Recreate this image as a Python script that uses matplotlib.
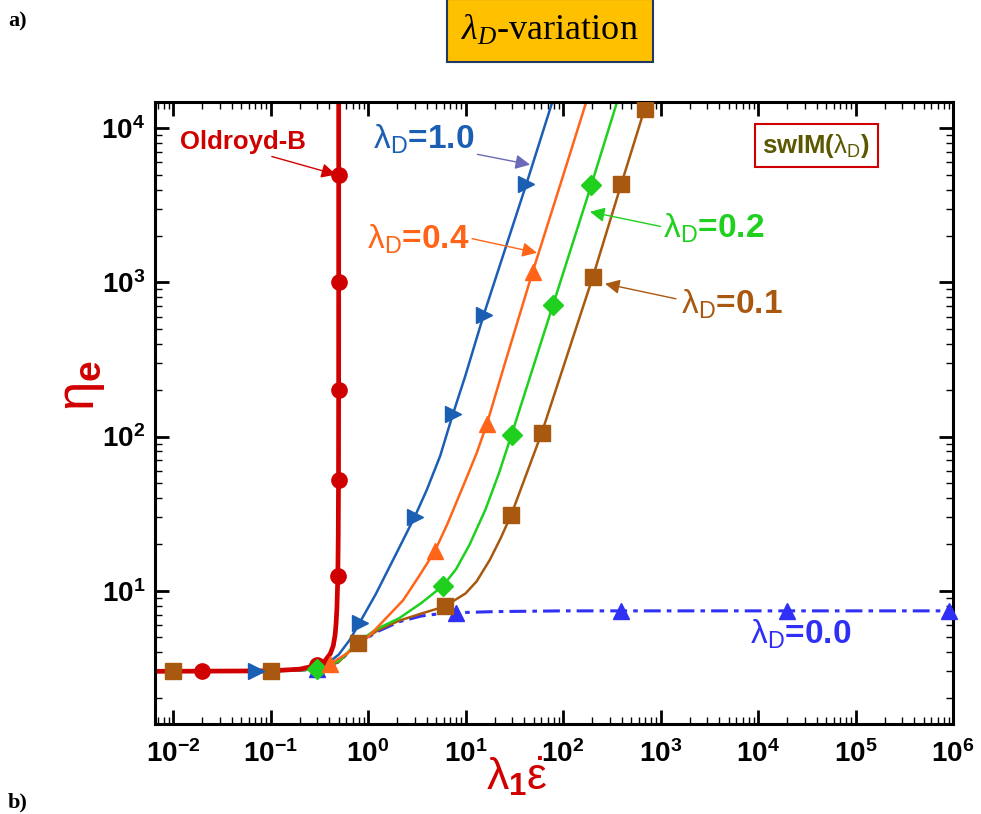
import numpy as np
import matplotlib
matplotlib.use("Agg")
from matplotlib import pyplot as plt
from matplotlib.ticker import LogLocator, FuncFormatter, NullFormatter

# Oldroyd-B
ob_x = [0.0065, 0.1, 0.2, 0.3, 0.36, 0.41, 0.44, 0.46, 0.47, 0.48, 0.49, 0.495, 0.498, 0.4995, 0.4999, 0.49998, 0.499995]
ob_y = [3.0, 3.02, 3.1, 3.28, 3.5, 3.9, 4.4, 5.2, 6.1, 7.8, 12.5, 23, 52, 200, 1000, 5000, 20000]
ob_mx = [0.02, 0.3, 0.49, 0.498, 0.4995, 0.4999, 0.49998]
ob_my = [3.0, 3.28, 12.5, 52, 200, 1000, 5000]

# swIM, lambda_D = 1.0
d10_x = [0.0065, 0.1, 0.2, 0.3, 0.4, 0.5, 0.65, 0.82, 1.2, 2.0, 3.0, 4.0, 5.5, 7.4, 10, 15.3, 42, 90]
d10_y = [3.0, 3.02, 3.08, 3.2, 3.45, 3.85, 4.8, 6.2, 9.5, 18, 30, 45, 75, 139, 250, 611, 4330, 19900]
d10_mx = [0.071, 0.82, 3.0, 7.4, 15.3, 42]
d10_my = [3.0, 6.2, 30, 139, 611, 4330]

# lambda_D = 0.4
d04_x = [0.0065, 0.1, 0.2, 0.3, 0.41, 0.6, 1.0, 2.3, 3.3, 4.83, 6.5, 10, 13, 16.5, 25, 48.9, 100, 220]
d04_y = [3.0, 3.02, 3.06, 3.15, 3.35, 3.9, 5.0, 8.7, 12.3, 18, 27, 52, 78, 120, 290, 1175, 4900, 24000]
d04_mx = [0.41, 4.83, 16.5, 48.9]
d04_my = [3.35, 18, 120, 1175]

# lambda_D = 0.2
d02_x = [0.0065, 0.1, 0.2, 0.3, 0.5, 0.78, 1.2, 2.1, 3.5, 5.9, 8, 11, 16, 22, 29.7, 78.7, 195, 400]
d02_y = [3.0, 3.02, 3.05, 3.1, 3.5, 4.6, 5.6, 6.65, 8.3, 10.8, 13.8, 19.9, 33.6, 57.7, 103, 710, 4285, 18500]
d02_mx = [0.3, 5.9, 29.7, 78.7, 195]
d02_my = [3.1, 10.8, 103, 710, 4285]

# lambda_D = 0.1
d01_x = [0.0065, 0.01, 0.1, 0.2, 0.3, 0.5, 0.79, 1.3, 2.1, 3.5, 6.1, 10, 13, 17.8, 23, 29.5, 60.3, 202, 395, 686, 900]
d01_y = [3.0, 3.0, 3.02, 3.05, 3.1, 3.45, 4.57, 5.6, 6.4, 7.1, 7.9, 9.6, 11.5, 15.9, 22, 31.2, 105, 1082, 4325, 13300, 22000]
d01_mx = [0.01, 0.1, 0.79, 6.1, 29.5, 60.3, 202, 395, 686]
d01_my = [3.0, 3.0, 4.57, 7.9, 31.2, 105, 1082, 4325, 13300]

# lambda_D = 0.0
d00_x = [0.0065, 0.1, 0.2, 0.3, 0.5, 0.79, 1.3, 2.1, 3.5, 5.5, 8.07, 20, 100, 1e6]
d00_y = [3.0, 3.02, 3.05, 3.1, 3.45, 4.57, 5.5, 6.3, 6.85, 7.1, 7.2, 7.32, 7.4, 7.4]
d00_mx = [0.3, 8.07, 395, 2e4, 9e5]
d00_my = [3.1, 7.2, 7.4, 7.4, 7.4]

RED = '#d10000'
BLUE1 = '#1a5fb4'
ORANGE = '#ff6418'
GREEN = '#1fd01f'
BROWN = '#a9580f'
BLUE0 = '#2f2ff5'

plt.rcParams['font.family'] = ['Liberation Sans', 'DejaVu Sans']
plt.rcParams['mathtext.fontset'] = 'custom'
plt.rcParams['mathtext.rm'] = 'Liberation Sans'
plt.rcParams['mathtext.sf'] = 'Liberation Sans'
plt.rcParams['mathtext.bf'] = 'Liberation Sans:bold'
plt.rcParams['mathtext.it'] = 'Liberation Serif:italic'

fig = plt.figure(figsize=(9.81, 8.14), dpi=100)
ax = fig.add_axes([155 / 981, 1 - 724 / 814, (953 - 155) / 981, (724 - 102) / 814])

# curves
ax.plot(d00_x, d00_y, color=BLUE0, lw=2.2, dashes=(5.5, 2, 1.5, 2), zorder=2)
ax.plot(d01_x, d01_y, color=BROWN, lw=1.8, zorder=2)
ax.plot(d02_x, d02_y, color=GREEN, lw=1.8, zorder=2)
ax.plot(d04_x, d04_y, color=ORANGE, lw=1.8, zorder=2)
ax.plot(d10_x, d10_y, color=BLUE1, lw=1.8, zorder=2)
ax.plot(ob_x, ob_y, color=RED, lw=3.4, zorder=2)

# markers
ax.plot(ob_mx, ob_my, 'o', color=RED, ms=11, zorder=3)
ax.plot(d00_mx, d00_my, '^', color=BLUE0, ms=11, zorder=3, clip_on=False)
ax.plot(d01_mx, d01_my, 's', color=BROWN, ms=11, zorder=3)
ax.plot(d02_mx, d02_my, 'D', color=GREEN, ms=10, zorder=3)
ax.plot(d04_mx, d04_my, '^', color=ORANGE, ms=12, zorder=3)
ax.plot(d10_mx, d10_my, '>', color=BLUE1, ms=12, zorder=3)

ax.set_xscale('log')
ax.set_yscale('log')
ax.set_xlim(0.00653, 1e6)
ax.set_ylim(1.366, 14790)

for axis in (ax.xaxis, ax.yaxis):
    axis.set_major_locator(LogLocator(base=10, numticks=20))
    axis.set_minor_locator(LogLocator(base=10, subs=np.arange(2, 10), numticks=20))
    axis.set_minor_formatter(NullFormatter())
    axis.set_major_formatter(FuncFormatter(lambda v, p: r"$\mathbf{10^{%d}}$" % round(np.log10(v))))

ax.tick_params(which='both', direction='in', top=True, right=True, labelsize=20)
ax.tick_params(which='major', length=10, width=2.0)
ax.tick_params(which='minor', length=5, width=1.0)
ax.tick_params(axis='x', pad=12)
ax.tick_params(axis='y', pad=7)
for sp in ax.spines.values():
    sp.set_linewidth(2.2)

ax.set_xlabel(r"$\mathsf{\lambda}_{\mathbf{1}}\dot{\mathsf{\varepsilon}}$", color=RED, fontsize=32)
ax.xaxis.set_label_coords(0.4536, -0.05)
ax.set_ylabel(r"$\mathsf{\eta}_{\mathbf{e}}$", color=RED, fontsize=38)
ax.yaxis.set_label_coords(-0.06, 0.545)

# labels and arrows
lam = r"$\mathsf{\lambda_D}$"
ax.annotate('Oldroyd-B', xy=(0.47, 5000), xytext=(0.0523, 8170), color=RED, fontsize=18.5,
            fontweight='bold', ha='center', va='center',
            arrowprops=dict(arrowstyle='-|>', color=RED, lw=1.0, mutation_scale=22,
                            shrinkA=0, shrinkB=0, relpos=(0.65, 0)))
ax.annotate(lam + '=1.0', xy=(45.9, 5800), xytext=(3.75, 8410), color=BLUE1, fontsize=24,
            fontweight='bold', ha='center', va='center',
            arrowprops=dict(arrowstyle='-|>', color='#6a6ab8', lw=1.0, mutation_scale=22,
                            shrinkA=0, shrinkB=0, relpos=(0.8, 0.2)))
ax.annotate(lam + '=0.4', xy=(54, 1556), xytext=(3.26, 1890), color=ORANGE, fontsize=24,
            fontweight='bold', ha='center', va='center',
            arrowprops=dict(arrowstyle='-|>', color=ORANGE, lw=1.0, mutation_scale=22,
                            shrinkA=0, shrinkB=0, relpos=(1.0, 0.55)))
ax.annotate(lam + '=0.2', xy=(189, 2870), xytext=(3540, 2230), color=GREEN, fontsize=24,
            fontweight='bold', ha='center', va='center',
            arrowprops=dict(arrowstyle='-|>', color=GREEN, lw=1.0, mutation_scale=22,
                            shrinkA=0, shrinkB=0, relpos=(0.0, 0.55)))
ax.annotate(lam + '=0.1', xy=(270, 980), xytext=(5400, 726), color=BROWN, fontsize=24,
            fontweight='bold', ha='center', va='center',
            arrowprops=dict(arrowstyle='-|>', color=BROWN, lw=1.0, mutation_scale=22,
                            shrinkA=0, shrinkB=0, relpos=(-0.05, 0.65)))
ax.text(27600, 5.19, lam + '=0.0', color=BLUE0, fontsize=24, fontweight='bold',
        ha='center', va='center')
ax.text(39400, 7690, 'swIM(' + lam + ')', color='#5b5800', fontsize=18.5, fontweight='bold',
        ha='center', va='center',
        bbox=dict(boxstyle='square,pad=0.3', fc='white', ec='#d00000', lw=1.5))

# panel header
fig.text(0.5607, 0.962, r"$\lambda_D$-variation", family='Liberation Serif', fontsize=26,
         ha='center', va='center',
         bbox=dict(boxstyle='square,pad=0.4', fc='#ffc000', ec='#1f3864', lw=1.5))
fig.text(0.008, 0.973, 'a)', family='Liberation Serif', fontsize=16, fontweight='bold',
         ha='left', va='center')
fig.text(0.008, 0.002, 'b)', family='Liberation Serif', fontsize=16, fontweight='bold',
         ha='left', va='bottom')

fig.savefig('out.png', dpi=100)
